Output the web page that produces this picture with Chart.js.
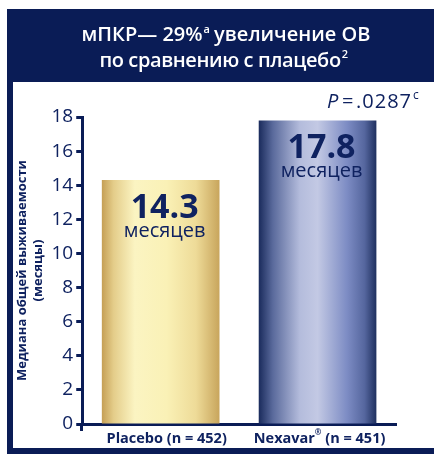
<!DOCTYPE html>
<html>
<head>
<meta charset="utf-8">
<script src="https://cdn.jsdelivr.net/npm/chart.js@4/dist/chart.umd.min.js"></script>
<style>
  html, body { margin: 0; padding: 0; background: #ffffff; }
  #wrap { width: 434px; height: 454px; position: relative; }
</style>
</head>
<body>
<div id="wrap"><canvas id="c" width="434" height="454"></canvas></div>
<script>
// Median overall survival, months
const armNames   = ['Placebo', 'Nexavar'];
const armMarks   = ['', '®'];
const armCounts  = [452, 451];
const medianOS   = [14.3, 17.8];
const yTickStep  = 2;
const yMax       = 18;
const titleLines = ['мПКР— 29%', 'по сравнению с плацебо'];
const yTitle     = ['Медиана общей выживаемости', '(месяцы)'];
const pValue     = '.0287';
const unitLabel  = 'месяцев';

const NAVY = '#0a1c56';
const TEXT_NAVY = '#0f2260';
const FONT = '"Open Sans", "Liberation Sans", sans-serif';
const BAR_PCT = 0.75;

const categories = armNames.map((n, i) => n + armMarks[i] + ' (n = ' + armCounts[i] + ')');

function barGradient(ctx, x0, x1, idx) {
  const g = ctx.createLinearGradient(x0, 0, x1, 0);
  if (idx === 0) {
    g.addColorStop(0.00, '#c59f55');
    g.addColorStop(0.10, '#e4cd8a');
    g.addColorStop(0.28, '#fbf4c2');
    g.addColorStop(0.55, '#faf1b6');
    g.addColorStop(0.80, '#eedb98');
    g.addColorStop(1.00, '#c8a55c');
  } else {
    g.addColorStop(0.00, '#1a2b5c');
    g.addColorStop(0.12, '#5a6a9c');
    g.addColorStop(0.35, '#b4bcdc');
    g.addColorStop(0.50, '#c3c9e4');
    g.addColorStop(0.75, '#7d8cc4');
    g.addColorStop(0.90, '#55669e');
    g.addColorStop(1.00, '#1f305f');
  }
  return g;
}

// Per-bar horizontal gradient, positioned from the category scale
function barFill(context) {
  const chart = context.chart;
  const xs = chart.scales && chart.scales.x;
  if (!chart.chartArea || !xs) return '#e8d48f';
  const i = context.dataIndex;
  const cx = xs.getPixelForValue(i);
  const w = (xs.width / categories.length) * BAR_PCT;
  return barGradient(chart.ctx, cx - w / 2, cx + w / 2, i);
}

const framePlugin = {
  id: 'frame',
  beforeDraw(chart) {
    const ctx = chart.ctx;
    ctx.save();
    ctx.fillStyle = '#ffffff';
    ctx.fillRect(0, 0, chart.width, chart.height);
    ctx.fillStyle = NAVY;
    ctx.fillRect(7, 9, chart.width - 7, 73);      // header band
    ctx.fillRect(7, 82, 6, chart.height - 82);     // left edge
    ctx.fillRect(7, 448, chart.width - 7, 6);      // bottom band

    // Header text
    ctx.fillStyle = '#ffffff';
    ctx.textBaseline = 'alphabetic';
    const f1 = '600 20px ' + FONT;
    const fs = '600 11px ' + FONT;
    ctx.font = f1;
    const part1 = titleLines[0];
    const part2 = ' увеличение ОВ';
    ctx.font = fs; const wa = ctx.measureText('a').width;
    ctx.font = f1;
    const w1 = ctx.measureText(part1).width, w2 = ctx.measureText(part2).width;
    let x = 226 - (w1 + wa + w2) / 2;
    ctx.textAlign = 'left';
    ctx.fillText(part1, x, 41); x += w1;
    ctx.font = fs; ctx.fillText('a', x + 1, 33); x += wa;
    ctx.font = f1; ctx.fillText(part2, x, 41);

    ctx.letterSpacing = '-0.4px';
    const wl2 = ctx.measureText(titleLines[1]).width;
    ctx.font = fs; const w22 = ctx.measureText('2').width;
    ctx.font = f1;
    let x2 = 223 - (wl2 + w22) / 2;
    ctx.fillText(titleLines[1], x2, 67);
    ctx.letterSpacing = '0px';
    ctx.font = fs; ctx.fillText('2', x2 + wl2 + 1, 58);
    ctx.restore();
  },
  afterDatasetsDraw(chart) {
    const ctx = chart.ctx;
    const meta = chart.getDatasetMeta(0);
    ctx.save();
    ctx.textAlign = 'center';
    ctx.textBaseline = 'alphabetic';
    meta.data.forEach((bar, i) => {
      ctx.fillStyle = TEXT_NAVY;
      ctx.font = 'bold 34px ' + FONT;
      ctx.fillText(medianOS[i].toFixed(1), bar.x + 4, bar.y + 38);
      ctx.font = '20px ' + FONT;
      ctx.fillText(unitLabel, bar.x + 4, bar.y + 57);
    });

    // P value
    ctx.textAlign = 'left';
    ctx.font = 'italic 20px ' + FONT; ctx.fillText('P', 327, 108);
    ctx.font = '20px ' + FONT; ctx.fillText('=', 342, 108);
    ctx.letterSpacing = '1px';
    ctx.fillText(pValue, 356, 108);
    const pw = ctx.measureText(pValue).width;
    ctx.letterSpacing = '0px';
    ctx.font = '12px ' + FONT; ctx.fillText('c', 356 + pw + 1, 99);

    // category labels
    const xs = chart.scales.x;
    categories.forEach((c, i) => {
      const cx = xs.getPixelForValue(i) + (i === 0 ? 6 : 2);
      const base = armNames[i], mark = armMarks[i], rest = ' (n = ' + armCounts[i] + ')';
      ctx.font = 'bold 14.5px ' + FONT;
      const wb = ctx.measureText(base).width, wr = ctx.measureText(rest).width;
      ctx.font = 'bold 8px ' + FONT;
      const wm = mark ? ctx.measureText(mark).width : 0;
      let lx = cx - (wb + wm + wr) / 2;
      ctx.font = 'bold 14.5px ' + FONT;
      ctx.fillText(base, lx, 443); lx += wb;
      if (mark) { ctx.font = 'bold 8px ' + FONT; ctx.fillText(mark, lx, 435); lx += wm; }
      ctx.font = 'bold 14.5px ' + FONT;
      ctx.fillText(rest, lx, 443);
    });
    ctx.restore();
  },
  afterDraw(chart) {
    // short stub of the value axis below the baseline
    const ctx = chart.ctx, a = chart.chartArea;
    ctx.save();
    ctx.fillStyle = NAVY;
    ctx.fillRect(Math.round(a.left) - 2, a.bottom, 3, 7);
    ctx.restore();
  }
};

new Chart(document.getElementById('c'), {
  type: 'bar',
  data: {
    labels: categories,
    datasets: [{
      data: medianOS,
      backgroundColor: barFill,
      borderWidth: 0,
      barPercentage: BAR_PCT,
      categoryPercentage: 1.0
    }]
  },
  options: {
    responsive: false,
    animation: false,
    devicePixelRatio: 1,
    layout: { padding: { left: 14, right: 38, top: 117, bottom: 30 } },
    plugins: { legend: { display: false }, tooltip: { enabled: false }, title: { display: false } },
    scales: {
      x: {
        ticks: { display: false },
        grid: { display: false, drawTicks: false },
        border: { color: NAVY, width: 3 }
      },
      y: {
        min: 0, max: yMax,
        ticks: { stepSize: yTickStep, color: TEXT_NAVY, font: { family: FONT, size: 19 }, padding: 3 },
        grid: { drawOnChartArea: false, drawTicks: true, tickLength: 6, tickWidth: 3, tickColor: NAVY },
        border: { color: NAVY, width: 3 },
        title: {
          display: true, text: yTitle, color: TEXT_NAVY,
          font: { family: FONT, size: 13, weight: 'bold', lineHeight: 1.25 },
          padding: { top: 0, bottom: 2 }
        }
      }
    }
  },
  plugins: [framePlugin]
});
</script>
</body>
</html>
